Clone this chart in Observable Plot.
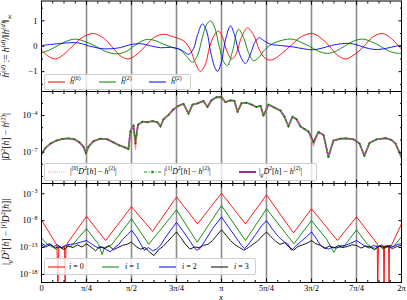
<!DOCTYPE html>
<html><head><meta charset="utf-8">
<script src="https://cdn.jsdelivr.net/npm/d3@7"></script>
<script src="https://cdn.jsdelivr.net/npm/@observablehq/plot@0.6"></script>
<style>
body{margin:0;background:#fff;}
#wrap{position:relative;width:407px;height:300px;overflow:hidden;font-family:"Liberation Serif",serif;color:#000;}
#wrap svg{position:absolute;left:0;overflow:visible;}
.ytitle{position:absolute;white-space:nowrap;font-size:9.5px;transform:translate(-50%,-50%) rotate(-90deg);line-height:1;}
.legend{position:absolute;background:rgba(255,255,255,0.8);border:1px solid #cfcfcf;border-radius:2px;font-size:8px;}
.legend .it{position:absolute;top:50%;transform:translateY(-50%);white-space:nowrap;line-height:1;}
.legend svg{position:absolute;top:50%;transform:translateY(-50%);overflow:visible;}
sup,sub{font-size:70%;line-height:0;}
.xl{position:absolute;font-style:italic;font-size:9px;transform:translate(-50%,-50%);line-height:1;}
</style></head>
<body><div id="wrap"></div>
<script>
const PI = Math.PI;
// ---------- Panel 1: normalised derivatives (x in units of π) ----------
const h0X = [0,0.039,0.078,0.122,0.172,0.228,0.289,0.344,0.389,0.439,0.483,0.533,0.583,0.628,0.678,0.728,0.772,0.800,0.828,0.856,0.883,0.911,0.933,0.961,0.983,1.006,1.028,1.056,1.078,1.111,1.144,1.178,1.211,1.244,1.278,1.333,1.389,1.444,1.506,1.556,1.600,1.644,1.689,1.744,1.794,1.839,1.894,1.944,2.000];
const h0Y = [-0.15,-0.40,-0.50,-0.33,0.00,0.36,0.50,0.33,0.00,-0.38,-0.50,-0.30,0.05,0.36,0.47,0.38,0.28,0.15,-0.15,-0.68,-0.99,-0.70,-0.05,0.45,0.60,0.35,-0.15,-0.50,-0.35,0.35,0.72,0.45,-0.15,-0.48,-0.54,-0.30,0.05,0.38,0.50,0.30,0.00,-0.35,-0.50,-0.30,0.02,0.36,0.50,0.30,-0.12];
const h1X = [0,0.044,0.089,0.139,0.189,0.244,0.306,0.361,0.422,0.472,0.517,0.556,0.589,0.633,0.678,0.728,0.772,0.806,0.839,0.867,0.894,0.917,0.939,0.961,0.989,1.011,1.033,1.061,1.094,1.122,1.150,1.178,1.206,1.239,1.283,1.339,1.394,1.444,1.489,1.533,1.589,1.639,1.683,1.733,1.783,1.833,1.883,1.933,1.983,2.000];
const h1Y = [-0.26,-0.15,0.02,0.20,0.28,0.18,-0.02,-0.22,-0.30,-0.20,0.02,0.20,0.27,0.22,0.08,-0.05,-0.15,-0.40,-0.63,-0.35,0.35,0.85,1.00,0.75,-0.05,-0.60,-0.76,-0.20,0.67,0.35,-0.25,-0.57,-0.45,-0.15,0.10,0.24,0.28,0.15,0.00,-0.18,-0.28,-0.18,0.00,0.20,0.28,0.18,0.00,-0.20,-0.28,-0.27];
const h2X = [0,0.050,0.106,0.161,0.206,0.261,0.328,0.383,0.439,0.494,0.550,0.606,0.661,0.717,0.761,0.789,0.817,0.844,0.867,0.894,0.917,0.939,0.961,0.978,1.000,1.022,1.050,1.072,1.100,1.133,1.161,1.189,1.211,1.239,1.272,1.328,1.400,1.456,1.506,1.556,1.611,1.667,1.717,1.767,1.817,1.867,1.917,1.967,2.000];
const h2Y = [0.03,0.07,0.11,0.14,0.13,0.02,-0.09,-0.10,-0.05,0.06,0.10,0.02,-0.06,-0.04,-0.10,-0.20,-0.32,-0.10,0.45,0.88,0.60,-0.20,-0.80,-0.99,-0.60,0.25,0.80,0.45,-0.30,-0.68,-0.30,0.20,0.33,0.20,0.08,0.03,-0.03,-0.10,-0.14,-0.08,0.03,0.10,0.11,0.02,-0.09,-0.13,-0.08,0.00,0.03];

// ---------- Panel 2: |D²[h] − h⁽²⁾| (log10 of the error) ----------
const errX = [0,0.022,0.050,0.083,0.117,0.150,0.183,0.211,0.233,0.247,0.261,0.289,0.328,0.367,0.400,0.433,0.461,0.483,0.494,0.511,0.522,0.536,0.561,0.589,0.617,0.644,0.661,0.678,0.706,0.733,0.761,0.789,0.817,0.839,0.867,0.900,0.922,0.944,0.972,1.000,1.022,1.050,1.072,1.089,1.111,1.139,1.167,1.194,1.217,1.233,1.261,1.294,1.328,1.350,1.372,1.394,1.417,1.439,1.461,1.483,1.511,1.539,1.567,1.594,1.622,1.661,1.694,1.733,1.767,1.794,1.822,1.861,1.911,1.944,1.967,2.000];
const errG_log10 = [-7.15,-6.65,-6.30,-6.05,-5.92,-5.87,-5.95,-6.2,-6.55,-7.1,-6.55,-6.1,-5.9,-5.95,-6.2,-6.45,-6.6,-6.75,-5.3,-4.8,-6.3,-4.75,-4.5,-4.55,-4.45,-4.55,-4.9,-4.3,-3.95,-3.5,-3.2,-3.05,-3.85,-3.1,-3.0,-2.8,-3.3,-2.75,-2.5,-2.5,-2.9,-2.75,-2.8,-3.7,-3.0,-2.95,-3.1,-3.3,-3.2,-4.0,-3.1,-3.35,-3.6,-4.1,-4.9,-4.1,-4.3,-4.9,-5.1,-5.3,-6.2,-5.35,-5.6,-7.4,-6.05,-5.9,-5.88,-5.95,-6.3,-7.3,-6.25,-5.95,-5.86,-6.0,-6.3,-7.4];
const err1_log10 = errG_log10; // the [1] curve lies on top of the g curve
const err0_log10 = [-7.15,-6.65,-6.30,-6.05,-5.92,-5.87,-5.95,-6.2,-6.55,-7.2,-6.55,-6.1,-5.9,-5.95,-6.2,-6.45,-6.6,-6.8,-5.3,-4.8,-6.8,-4.75,-4.5,-4.55,-4.45,-4.55,-4.9,-4.3,-3.95,-3.5,-3.2,-3.05,-3.85,-3.1,-3.0,-2.8,-3.3,-2.75,-2.5,-2.5,-2.9,-2.75,-2.8,-3.7,-3.0,-2.95,-3.1,-3.3,-3.2,-4.0,-3.1,-3.35,-3.6,-4.1,-4.9,-4.1,-4.3,-4.9,-5.1,-5.3,-6.5,-5.35,-5.6,-7.4,-6.05,-5.9,-5.88,-5.95,-6.3,-7.3,-6.25,-5.95,-5.86,-6.0,-6.3,-7.4];

// ---------- Panel 3: |_gD²[h] − [i]D²[h]| (log10) ----------
const i0X = [0,0.061,0.086,0.091,0.096,0.111,0.128,0.131,0.136,0.144,0.25,0.356,0.5,0.617,0.75,0.867,1.0,1.133,1.25,1.4,1.5,1.644,1.75,1.865,1.868,1.872,1.9,1.903,1.906,1.928,1.931,1.933,1.944,2.0];
const i0_log10 = [-7.9,-11.2,-12.6,-21,-12.9,-13.1,-12.8,-21,-13.0,-12.2,-7.2,-11.7,-5.4,-10.0,-3.6,-8.6,-2.9,-8.6,-3.2,-10.3,-5.8,-11.7,-7.3,-12.3,-21,-12.7,-12.8,-21,-12.7,-12.8,-21,-12.6,-12.6,-8.6];
const i1X = [0,0.033,0.067,0.083,0.1,0.117,0.133,0.161,0.25,0.317,0.337,0.35,0.389,0.5,0.596,0.75,0.865,1.0,1.133,1.25,1.402,1.5,1.583,1.624,1.639,1.678,1.75,1.811,1.833,1.856,1.878,1.9,1.922,1.944,1.961,2.0];
const i1_log10 = [-11.2,-12.4,-13.0,-13.3,-12.8,-13.2,-12.7,-12.9,-9.5,-12.4,-14.3,-13.0,-12.5,-7.65,-12.4,-6.0,-12.0,-5.2,-11.7,-5.8,-12.3,-8.0,-11.4,-13.9,-13.0,-12.9,-9.7,-12.4,-12.9,-13.2,-12.8,-13.3,-12.9,-13.1,-12.6,-11.0];
const i2X = [0,0.022,0.044,0.067,0.089,0.111,0.133,0.161,0.189,0.217,0.25,0.272,0.294,0.317,0.339,0.361,0.383,0.406,0.428,0.45,0.478,0.5,0.528,0.55,0.572,0.594,0.617,0.639,0.661,0.683,0.717,0.75,0.783,0.817,0.844,0.861,0.883,0.911,0.95,1.0,1.039,1.078,1.111,1.128,1.15,1.189,1.222,1.25,1.283,1.317,1.35,1.367,1.389,1.417,1.444,1.472,1.5,1.528,1.55,1.572,1.594,1.617,1.639,1.661,1.689,1.717,1.75,1.778,1.8,1.822,1.844,1.867,1.889,1.911,1.933,1.956,1.978,2.0];
const i2_log10 = [-12.2,-12.6,-12.3,-12.8,-12.5,-13.0,-12.6,-12.4,-12.3,-12.0,-11.7,-12.2,-12.7,-13.1,-12.9,-13.4,-13.8,-13.0,-12.5,-11.5,-10.6,-9.8,-11.0,-12.3,-13.5,-13.0,-13.6,-13.3,-12.6,-11.4,-9.8,-8.3,-9.8,-11.4,-12.8,-13.5,-13.1,-11.6,-9.5,-7.3,-9.2,-11.0,-12.6,-13.2,-12.4,-10.6,-9.0,-8.0,-9.6,-11.0,-12.0,-12.3,-13.5,-12.6,-11.8,-11.0,-10.1,-11.4,-12.6,-13.0,-13.3,-12.9,-13.1,-12.7,-12.6,-12.2,-11.7,-12.3,-12.8,-13.1,-12.6,-12.9,-12.5,-13.0,-12.7,-12.8,-12.4,-12.3];
const i3_log10 = [-12.6,-12.9,-12.4,-13.1,-12.8,-13.4,-12.7,-13.0,-12.5,-12.9,-12.3,-12.9,-13.6,-12.8,-13.2,-12.7,-13.4,-13.0,-12.6,-12.4,-12.0,-12.8,-13.3,-13.0,-13.8,-14.5,-13.4,-12.8,-11.9,-11.0,-10.1,-11.2,-12.4,-13.3,-12.9,-13.0,-12.6,-12.4,-11.7,-10.7,-9.7,-10.7,-11.7,-12.5,-13.0,-13.5,-13.0,-12.4,-11.8,-10.9,-10.1,-11.0,-11.8,-12.4,-12.1,-12.9,-13.5,-12.8,-12.5,-12.2,-11.7,-12.3,-12.6,-13.2,-12.7,-13.1,-12.6,-13.0,-12.8,-12.5,-12.6,-13.1,-12.7,-12.9,-13.4,-12.7,-13.0,-12.6,-13.2,-12.8,-12.6];
const i3X = i3_log10.map((_, k) => k * 0.025); // sample grid of the i = 3 curve

// ---------- ticks ----------
const xTickLabels = ["0","π/4","π/2","3π/4","π","5π/4","3π/2","7π/4","2π"];
const xMajor = xTickLabels.map((_, k) => k * PI / 4);
const xMinor = d3.range(33).map(k => k * PI / 16);
const grayLines = xMajor.slice(1, 8);
const p1TickVals = [1, 0, -1], p1TickLabels = ["1","0","−1"], p1Minor = [1.5, 0.5, -0.5, -1.5];
const p2TickVals = [1e-4, 1e-7], p2TickLabels = ["10^−4","10^−7"], p2Minor = [1e-3,1e-5,1e-6,1e-8,1e-9];
const p3TickVals = [1e-3, 1e-8, 1e-13, 1e-18], p3TickLabels = ["10^−3","10^−8","10^−13","10^−18"];

const rows = (xs, ys) => xs.map((x, k) => ({x: x * PI, y: ys[k]}));
const logRows = (xs, es) => xs.map((x, k) => ({x: x * PI, y: 10 ** es[k]}));

const style = {fontFamily: "'Liberation Serif', serif", fontSize: "8.5px", color: "#000", background: "none", overflow: "visible"};
const blank = () => "";
function frameTicks(yMajor, yMinor) {
  const m = [];
  for (const anchor of ["top", "bottom"]) {
    m.push(Plot.axisX({anchor, ticks: xMajor, tickSize: -3.5, tickFormat: blank, label: null}));
    m.push(Plot.axisX({anchor, ticks: xMinor, tickSize: -2, tickFormat: blank, label: null}));
  }
  for (const anchor of ["left", "right"]) {
    m.push(Plot.axisY({anchor, ticks: yMajor, tickSize: -3.5, tickFormat: blank, label: null}));
    if (yMinor) m.push(Plot.axisY({anchor, ticks: yMinor, tickSize: -2, tickFormat: blank, label: null}));
  }
  return m;
}
const yLabels = (vals, labs) => Plot.axisY({anchor: "left", ticks: vals, tickSize: 0, tickPadding: 4, label: null,
  tickFormat: d => labs[vals.findIndex(v => Math.abs(Math.log10(v) - Math.log10(d)) < 1e-6)]});
const gray = Plot.ruleX(grayLines, {stroke: "#8c8c8c", strokeWidth: 1.6});

const wrap = document.getElementById("wrap");

// Panel 1
const p1 = Plot.plot({
  width: 407, height: 92, marginLeft: 41, marginRight: 6, marginTop: 0.5, marginBottom: 1, style,
  x: {domain: [0, 2 * PI]}, y: {domain: [-1.78, 1.78]},
  marks: [
    gray,
    Plot.line(rows(h0X, h0Y), {x: "x", y: "y", stroke: "#ff0000", strokeWidth: 0.9, curve: "catmull-rom"}),
    Plot.line(rows(h1X, h1Y), {x: "x", y: "y", stroke: "#008000", strokeWidth: 0.9, curve: "catmull-rom"}),
    Plot.line(rows(h2X, h2Y), {x: "x", y: "y", stroke: "#0000ff", strokeWidth: 0.9, curve: "catmull-rom"}),
    Plot.axisY({anchor: "left", ticks: p1TickVals, tickSize: 0, tickPadding: 4, label: null, tickFormat: d => p1TickLabels[p1TickVals.indexOf(d)]}),
    ...frameTicks(p1TickVals, p1Minor),
    Plot.frame({stroke: "#000", strokeWidth: 1})
  ]
});
p1.style.top = "0px";
wrap.appendChild(p1);

// Panel 2
const p2 = Plot.plot({
  width: 407, height: 92, marginLeft: 41, marginRight: 6, marginTop: 0, marginBottom: 0, style,
  x: {domain: [0, 2 * PI]}, y: {type: "log", domain: [10 ** -9.57, 10 ** -2.03]},
  marks: [
    gray,
    Plot.line(logRows(errX, errG_log10), {x: "x", y: "y", stroke: "#8b1a8b", strokeWidth: 1.8, clip: true}),
    Plot.line(logRows(errX, err0_log10), {x: "x", y: "y", stroke: "#ff8a8a", strokeWidth: 1.2, strokeDasharray: "1,1.2", clip: true}),
    Plot.line(logRows(errX, err1_log10), {x: "x", y: "y", stroke: "#1a8a1a", strokeWidth: 1, strokeDasharray: "3,1.5,1,1.5", clip: true}),
    Plot.dot(logRows(errX, err1_log10), {x: "x", y: "y", fill: "#008000", r: 0.9, clip: true}),
    yLabels(p2TickVals, p2TickLabels),
    ...frameTicks(p2TickVals, p2Minor),
    Plot.frame({stroke: "#000", strokeWidth: 1})
  ]
});
p2.style.top = "91px";
wrap.appendChild(p2);

// Panel 3
const p3 = Plot.plot({
  width: 407, height: 117, marginLeft: 41, marginRight: 6, marginTop: 0, marginBottom: 18, style,
  x: {domain: [0, 2 * PI]}, y: {type: "log", domain: [10 ** -19.5, 10 ** -1.09]},
  marks: [
    gray,
    Plot.line(logRows(i0X, i0_log10), {x: "x", y: "y", stroke: "#ff0000", strokeWidth: 0.9, clip: true}),
    Plot.line(logRows(i1X, i1_log10), {x: "x", y: "y", stroke: "#008000", strokeWidth: 0.9, clip: true}),
    Plot.line(logRows(i2X, i2_log10), {x: "x", y: "y", stroke: "#0000ff", strokeWidth: 0.9, clip: true}),
    Plot.line(logRows(i3X, i3_log10), {x: "x", y: "y", stroke: "#000000", strokeWidth: 0.9, clip: true}),
    yLabels(p3TickVals, p3TickLabels),
    Plot.axisX({anchor: "bottom", ticks: xMajor, tickSize: 0, tickPadding: 2, label: null, tickFormat: d => xTickLabels[Math.round(d / (PI / 4))]}),
    ...frameTicks(p3TickVals, null),
    Plot.frame({stroke: "#000", strokeWidth: 1})
  ]
});
p3.style.top = "183px";
wrap.appendChild(p3);

// superscript exponents in log tick labels
wrap.querySelectorAll("svg text").forEach(t => {
  const s = t.textContent;
  const m = /^10\^(.+)$/.exec(s);
  if (m) {
    t.textContent = "10";
    const ts = document.createElementNS("http://www.w3.org/2000/svg", "tspan");
    ts.setAttribute("dy", "-3.2");
    ts.setAttribute("font-size", "6px");
    ts.textContent = m[1];
    t.appendChild(ts);
  }
});

// titles, legends (HTML text)
function addHTML(cls, html, css) {
  const d = document.createElement("div");
  d.className = cls; d.innerHTML = html; Object.assign(d.style, css); wrap.appendChild(d); return d;
}
addHTML("ytitle", "<i>h̃</i><sup>(<i>d</i>)</sup> := <i>h</i><sup>(<i>d</i>)</sup>/‖<i>h</i><sup>(<i>d</i>)</sup>‖<sub>∞</sub>", {left: "7px", top: "46px"});
addHTML("ytitle", "|<i>D</i><sup>2</sup>[<i>h</i>] − <i>h</i><sup>(2)</sup>|", {left: "7px", top: "137px"});
addHTML("ytitle", "|<sub><i>g</i></sub><i>D</i><sup>2</sup>[<i>h</i>] − <sup>[<i>i</i>]</sup><i>D</i><sup>2</sup>[<i>h</i>]|", {left: "7px", top: "232px"});
addHTML("xl", "x", {left: "221px", top: "296.5px"});

function swatch(color, dash, w, dot) {
  return `<svg width="17" height="4" viewBox="0 0 17 4"><line x1="0" y1="2" x2="17" y2="2" stroke="${color}" stroke-width="${w}" ${dash ? `stroke-dasharray="${dash}"` : ""}/>${dot ? `<circle cx="8.5" cy="2" r="1.2" fill="${color}"/>` : ""}</svg>`;
}
function legend(box, items) {
  const d = addHTML("legend", "", box);
  for (const it of items) {
    const s = document.createElement("div"); s.innerHTML = it.sw; s.firstChild.style.left = it.sx + "px"; d.appendChild(s.firstChild);
    const t = document.createElement("div"); t.className = "it"; t.style.left = it.tx + "px"; t.innerHTML = it.label; d.appendChild(t);
  }
}
legend({left: "44px", top: "74px", width: "145px", height: "14px"}, [
  {sw: swatch("#ff0000", null, 1), sx: 2.5, tx: 25, label: "<i>h̃</i><sup>(0)</sup>"},
  {sw: swatch("#008000", null, 1), sx: 54, tx: 76, label: "<i>h̃</i><sup>(2)</sup>"},
  {sw: swatch("#0000ff", null, 1), sx: 104, tx: 126, label: "<i>h̃</i><sup>(2)</sup>"}
]);
legend({left: "44px", top: "163px", width: "271px", height: "16px"}, [
  {sw: swatch("#ff8a8a", "1,1.2", 1.2), sx: 3, tx: 25, label: "|<sup>[0]</sup><i>D</i><sup>2</sup>[<i>h</i>] − <i>h</i><sup>(2)</sup>|"},
  {sw: swatch("#1a8a1a", "3,1.5,1,1.5", 1, true), sx: 99, tx: 119, label: "|<sup>[1]</sup><i>D</i><sup>2</sup>[<i>h</i>] − <i>h</i><sup>(2)</sup>|"},
  {sw: swatch("#8b1a8b", null, 1.8), sx: 194, tx: 214, label: "|<sub><i>g</i></sub><i>D</i><sup>2</sup>[<i>h</i>] − <i>h</i><sup>(2)</sup>|"}
]);
legend({left: "44px", top: "258px", width: "210px", height: "15px"}, [
  {sw: swatch("#ff0000", null, 1), sx: 3, tx: 24, label: "<i>i</i> = 0"},
  {sw: swatch("#008000", null, 1), sx: 57, tx: 80, label: "<i>i</i> = 1"},
  {sw: swatch("#0000ff", null, 1), sx: 114, tx: 137, label: "<i>i</i> = 2"},
  {sw: swatch("#000000", null, 1), sx: 166, tx: 189, label: "<i>i</i> = 3"}
]);
</script>
</body></html>
